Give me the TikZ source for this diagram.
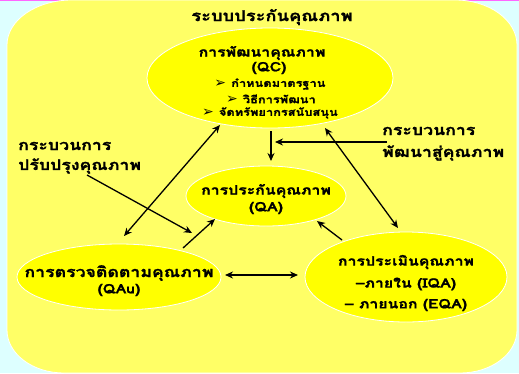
\documentclass[tikz,border=0pt]{standalone}
\usepackage{fontspec}
\setmainfont[Script=Thai,FakeStretch=1.22,BoldFeatures={FakeBold=1.2}]{Loma}
\newfontfamily\symfont{DejaVu Sans Bold}
\usetikzlibrary{arrows.meta,shapes.geometric}
\definecolor{bgc}{HTML}{DDFFFF}
\definecolor{panel}{HTML}{FFFF66}
\definecolor{ell}{HTML}{FFFF00}
\definecolor{topline}{HTML}{FF66FF}
\tikzset{
  bubble/.style={ellipse, fill=ell, draw=white, line width=0.8pt, inner sep=0pt},
  big/.style={font=\bfseries\fontsize{15}{17}\selectfont, inner sep=0pt},
  mid/.style={font=\bfseries\fontsize{13}{15}\selectfont, inner sep=0pt},
  small/.style={font=\bfseries\fontsize{10.5}{12}\selectfont, inner sep=0pt},
  side/.style={font=\bfseries\fontsize{14.5}{16}\selectfont, inner sep=0pt, anchor=west},
  arr/.style={line width=1.3pt, -{Stealth[length=8pt,width=7pt]}},
  darr/.style={line width=1.3pt, {Stealth[length=8pt,width=7pt]}-{Stealth[length=8pt,width=7pt]}},
}
\newcommand{\bulletmark}{{\symfont\fontsize{14}{12}\selectfont\raisebox{-0.5pt}{➢}}\hspace{5pt}}
\begin{document}
\begin{tikzpicture}[x=1pt,y=-1pt]
\fill[bgc] (0,0) rectangle (519,373);
\useasboundingbox (0,0) rectangle (519,373);
\draw[topline, line width=1.2pt] (0,0.6) -- (519,0.6);
\filldraw[fill=panel, draw=white, line width=0.8pt]
  (72,0) -- (455,0) arc[start angle=-90, end angle=0, x radius=62, y radius=45]
  -- (517,330) arc[start angle=0, end angle=90, x radius=57, y radius=43]
  -- (64,373) arc[start angle=90, end angle=180, x radius=57, y radius=43]
  -- (7,45) arc[start angle=180, end angle=270, x radius=65, y radius=45] -- cycle;
\node[big] (title) at (272,17) {ระบบประกันคุณภาพ};
% ellipses
\node[bubble, minimum width=246pt, minimum height=100pt] (qc) at (270,78) {};
\node[bubble, minimum width=160pt, minimum height=60pt] (qa) at (266,196) {};
\node[bubble, minimum width=204pt, minimum height=66pt] (qaw) at (119,277) {};
\node[bubble, minimum width=202pt, minimum height=90pt] (ev) at (406,277) {};
% texts
\node[mid] (qct1) at (262,53) {การพัฒนาคุณภาพ};
\node[mid] (qct2) at (269,68) {(QC)};
\node[small] (qcb1) at (270,84) {\bulletmark กำหนดมาตรฐาน};
\node[small] (qcb2) at (271,99) {\bulletmark วิธีการพัฒนา};
\node[small] (qcb3) at (270,113) {\bulletmark จัดทรัพยากรสนับสนุน};
\node[mid] (qat1) at (266,191) {การประกันคุณภาพ};
\node[mid] (qat2) at (266,208) {(QA)};
\node[mid, font=\bfseries\fontsize{14.5}{16}\selectfont] (qawt1) at (119,273) {การตรวจติดตามคุณภาพ};
\node[mid] (qawt2) at (119,290) {(QAu)};
\node[mid] (evt1) at (406,262) {การประเมินคุณภาพ};
\node[mid] (evt2) at (406,284) {–ภายใน (IQA)};
\node[mid] (evt3) at (406,305) {– ภายนอก (EQA)};
\node[side] (ll1) at (18,146) {กระบวนการ};
\node[side] (ll2) at (18,166) {ปรับปรุงคุณภาพ};
\node[side] (rl1) at (382,131) {กระบวนการ};
\node[side] (rl2) at (382,153) {พัฒนาสู่คุณภาพ};
% connector ends
\coordinate (qcS) at (271,131);
\coordinate (qaN) at (271,161);
\coordinate (rlA) at (387,142);
\coordinate (rlB) at (275,142);
\coordinate (qcL) at (220,125);
\coordinate (qawN) at (124,236);
\coordinate (qcR) at (325,128);
\coordinate (evN) at (398,228);
\coordinate (llA) at (87,175);
\coordinate (llB) at (192,233);
\coordinate (qawA) at (183,248);
\coordinate (qaL) at (215,219);
\coordinate (evA) at (342,240);
\coordinate (qaR) at (317,221);
\coordinate (qawE) at (225,275);
\coordinate (evW) at (298,275);
\draw[arr] (qcS) -- (qaN);
\draw[arr] (rlA) -- (rlB);
\draw[darr] (qcL) -- (qawN);
\draw[darr] (qcR) -- (evN);
\draw[arr] (llA) -- (llB);
\draw[arr] (qawA) -- (qaL);
\draw[arr] (evA) -- (qaR);
\draw[darr] (qawE) -- (evW);
\end{tikzpicture}
\end{document}
